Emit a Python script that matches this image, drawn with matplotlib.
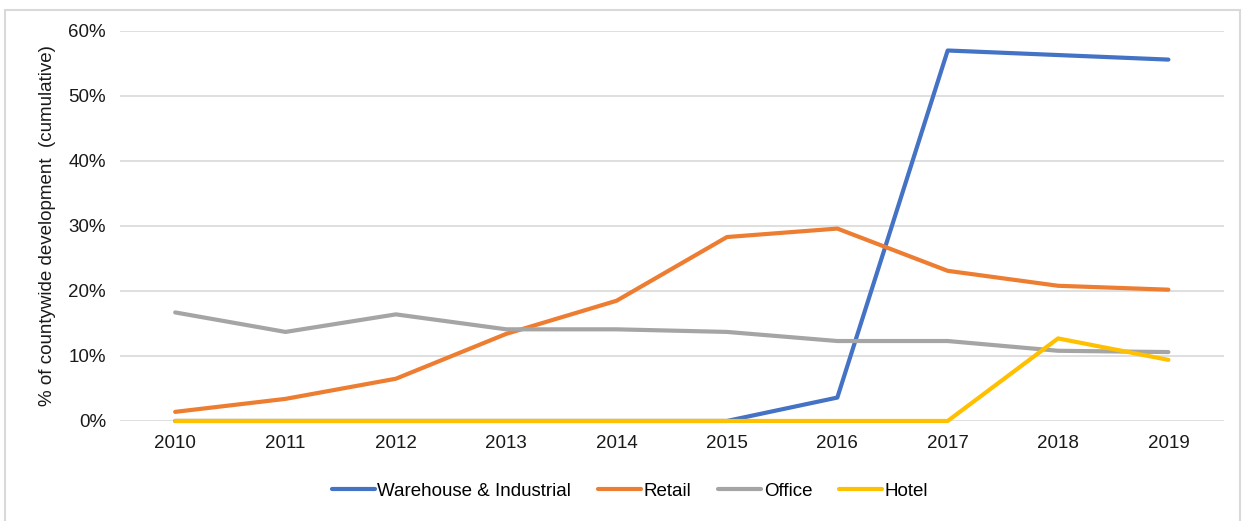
import matplotlib.pyplot as plt
from matplotlib.patches import Rectangle
from matplotlib.ticker import PercentFormatter

plt.rcParams['font.family'] = ['Liberation Sans', 'DejaVu Sans']

years = ['2010', '2011', '2012', '2013', '2014', '2015', '2016', '2017', '2018', '2019']
warehouse = [0, 0, 0, 0, 0, 0, 3.6, 57.0, 56.3, 55.6]
retail = [1.4, 3.4, 6.5, 13.4, 18.5, 28.3, 29.6, 23.1, 20.8, 20.2]
office = [16.7, 13.7, 16.4, 14.1, 14.1, 13.7, 12.3, 12.3, 10.8, 10.6]
hotel = [0, 0, 0, 0, 0, 0, 0, 0, 12.7, 9.4]

series = [
    ('Warehouse & Industrial', warehouse, '#4472C4'),
    ('Retail', retail, '#ED7D31'),
    ('Office', office, '#A5A5A5'),
    ('Hotel', hotel, '#FFC000'),
]

fig = plt.figure(figsize=(12.46, 5.21), dpi=100)
ax = fig.add_axes([0.0963, 0.192, 0.8857, 0.7485])

x = range(len(years))
for name, vals, color in series:
    ax.plot(x, vals, color=color, lw=3, label=name, solid_capstyle='round', clip_on=False)

ax.set_xlim(-0.5, len(years) - 0.5)
ax.set_ylim(0, 60)
ax.set_yticks(range(0, 61, 10))
ax.yaxis.set_major_formatter(PercentFormatter(decimals=0))
ax.set_xticks(list(x))
ax.set_xticklabels(years)
ax.grid(axis='y', color='#D9D9D9', lw=1.2)
ax.set_axisbelow(True)
for s in ['top', 'right', 'left', 'bottom']:
    ax.spines[s].set_visible(False)
ax.tick_params(length=0, labelsize=13.5, colors='#1a1a1a', pad=10)
ax.set_ylabel('% of countywide development  (cumulative)', fontsize=13.5, color='#1a1a1a', labelpad=9)

# legend centred a little left of the axes centre, like the original
ax.legend(loc='upper center', bbox_to_anchor=(0.462, -0.115), ncol=4, frameon=False,
          fontsize=13.5, handlelength=2.3, handletextpad=0.12, columnspacing=1.45)

fig.patches.append(Rectangle((0.004, -0.01), 0.991, 0.99, transform=fig.transFigure,
                             fill=False, edgecolor='#D9D9D9', lw=1.5))

fig.savefig('out.png', dpi=100)
